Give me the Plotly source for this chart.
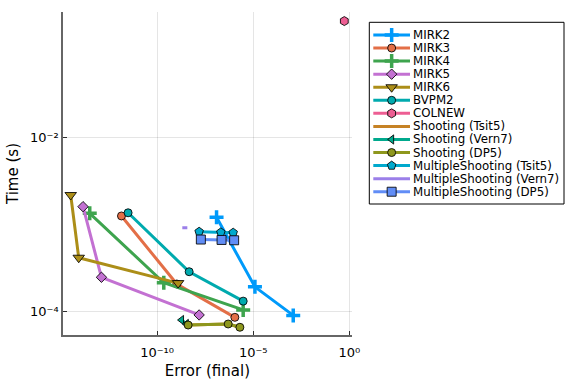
import plotly.graph_objects as go

# ---------------- data ----------------
names = ["MIRK2", "MIRK3", "MIRK4", "MIRK5", "MIRK6", "BVPM2", "COLNEW",
         "Shooting (Tsit5)", "Shooting (Vern7)", "Shooting (DP5)",
         "MultipleShooting (Tsit5)", "MultipleShooting (Vern7)", "MultipleShooting (DP5)"]

mirk2_err = [1.24e-7, 1.23e-5, 1.21e-3]
mirk2_time = [1.205e-3, 1.90e-4, 8.9e-5]
mirk3_err = [1.40e-12, 1.06e-9, 1.11e-6]
mirk3_time = [1.25e-3, 2.05e-4, 8.45e-5]
mirk4_err = [3.13e-14, 2.23e-10, 3.01e-6]
mirk4_time = [1.34e-3, 2.12e-4, 1.03e-4]
mirk5_err = [1.40e-14, 1.27e-13, 1.54e-8]
mirk5_time = [1.60e-3, 2.45e-4, 9.0e-5]
mirk6_err = [3.2e-15, 8.36e-15, 1.24e-9]
mirk6_time = [2.18e-3, 4.12e-4, 2.10e-4]
bvpm2_err = [3.09e-12, 4.65e-9, 3.01e-6]
bvpm2_time = [1.36e-3, 2.84e-4, 1.30e-4]
colnew_err = [0.55]
colnew_time = [0.222]
shoot_tsit5_err = [4.12e-9, 4.99e-7, 2.03e-6]
shoot_tsit5_time = [6.89e-5, 7.08e-5, 6.49e-5]
shoot_vern7_err = [1.87e-9, 3.32e-9]
shoot_vern7_time = [7.87e-5, 7.08e-5]
shoot_dp5_err = [4.12e-9, 4.99e-7, 2.03e-6]
shoot_dp5_time = [6.89e-5, 7.08e-5, 6.49e-5]
ms_tsit5_err = [1.54e-8, 2.08e-7, 9.08e-7]
ms_tsit5_time = [8.22e-4, 8.09e-4, 8.02e-4]
ms_vern7_err = [2.05e-9, 3.74e-9]
ms_vern7_time = [9.14e-4, 9.14e-4]
ms_dp5_err = [1.89e-8, 2.26e-7, 1.02e-6]
ms_dp5_time = [6.68e-4, 6.61e-4, 6.55e-4]

x_tickvals = [1e-10, 1e-5, 1e0]
x_ticktext = ["10⁻¹⁰", "10⁻⁵", "10⁰"]
y_tickvals = [1e-4, 1e-2]
y_ticktext = ["10⁻⁴", "10⁻²"]

# ---------------- styles ----------------
colors = ["#009AFA", "#E36F47", "#3EA44E", "#C371D2", "#AC8E18", "#00AAAE", "#ED5E93",
          "#C68225", "#00A98D", "#8E971D", "#00A9CD", "#9B7FE9", "#618DF6"]
symbols = ["cross-thin", "circle", "cross-thin", "diamond", "triangle-down", "circle", "hexagon",
           None, "triangle-left", "circle", "pentagon", None, "square"]
sizes = [10, 8, 10, 8, 10, 8, 9, None, 8, 8, 9, None, 9]

series_x = [mirk2_err, mirk3_err, mirk4_err, mirk5_err, mirk6_err, bvpm2_err, colnew_err,
            shoot_tsit5_err, shoot_vern7_err, shoot_dp5_err, ms_tsit5_err, ms_vern7_err, ms_dp5_err]
series_y = [mirk2_time, mirk3_time, mirk4_time, mirk5_time, mirk6_time, bvpm2_time, colnew_time,
            shoot_tsit5_time, shoot_vern7_time, shoot_dp5_time, ms_tsit5_time, ms_vern7_time, ms_dp5_time]

FONT = "DejaVu Sans"
fig = go.Figure()


def marker_of(i):
    if symbols[i] is None:
        return None
    if symbols[i] == "cross-thin":
        return dict(symbol="cross-thin", size=sizes[i], color=colors[i],
                    line=dict(width=3.5, color=colors[i]))
    return dict(symbol=symbols[i], size=sizes[i], color=colors[i],
                line=dict(width=1, color="rgba(0,0,0,0.85)"))


for i, nm in enumerate(names):
    mk = marker_of(i)
    fig.add_trace(go.Scatter(
        x=series_x[i], y=series_y[i], name=nm,
        mode="lines+markers" if mk else "lines",
        line=dict(color=colors[i], width=3),
        marker=mk, showlegend=False, xaxis="x", yaxis="y"))

# ---------------- custom legend (own axes, row units) ----------------
for i, nm in enumerate(names):
    mk = marker_of(i)
    fig.add_trace(go.Scatter(
        x=[0.0, 1.0], y=[i, i], mode="lines", line=dict(color=colors[i], width=3),
        showlegend=False, hoverinfo="skip", xaxis="x2", yaxis="y2"))
    if mk:
        fig.add_trace(go.Scatter(
            x=[0.5], y=[i], mode="markers", marker=mk,
            showlegend=False, hoverinfo="skip", xaxis="x2", yaxis="y2"))
    fig.add_annotation(x=1.03, y=i, xref="x2", yref="y2", text=nm, showarrow=False,
                       xanchor="left", yanchor="middle",
                       font=dict(family=FONT, size=11.8, color="black"))

W, H = 576, 384
ml, mr, mt, mb = 63, 8, 12, 49
pw, ph = W - ml - mr, H - mt - mb
px = lambda v: (v - ml) / pw
py = lambda v: 1 - (v - mt) / ph

fig.add_shape(type="rect", xref="paper", yref="paper",
              x0=px(369.3), x1=px(564), y0=py(204), y1=py(22.3),
              line=dict(color="black", width=1), fillcolor="rgba(0,0,0,0)")

# legend axes: row 0 at y=35 px, row step 13.06 px
row0, step = 35.0, 13.06
leg_top_px, leg_bot_px = 22.3, 204.0
y_hi = -(row0 - leg_top_px) / step
y_lo = (leg_bot_px - row0) / step
line_x0, line_x1 = 373.3, 410.0
leg_l, leg_r = 369.3, 564.0
sx = (line_x1 - line_x0)
x_min = (leg_l - line_x0) / sx
x_max = (leg_r - line_x0) / sx

fig.update_layout(
    width=W, height=H,
    margin=dict(l=ml, r=mr, t=mt, b=mb),
    paper_bgcolor="white", plot_bgcolor="white",
    font=dict(family=FONT, color="black"),
    showlegend=False,
    xaxis=dict(
        type="log", domain=[0, px(351.7)], range=[-14.896, 0.125],
        tickvals=x_tickvals, ticktext=x_ticktext,
        ticks="inside", ticklen=4, tickcolor="rgba(0,0,0,0.8)", ticklabelstandoff=5,
        showline=True, linecolor="rgba(0,0,0,0.6)", linewidth=1.5, mirror=False,
        showgrid=True, gridcolor="rgba(0,0,0,0.1)", gridwidth=1, zeroline=False,
        tickfont=dict(family=FONT, size=13, color="black"),
        title=dict(text="Error (final)", font=dict(family=FONT, size=15, color="black"), standoff=6),
        anchor="y", automargin=False),
    yaxis=dict(
        type="log", domain=[0, 1], range=[-4.277, -0.549],
        tickvals=y_tickvals, ticktext=y_ticktext,
        ticks="inside", ticklen=4, tickcolor="rgba(0,0,0,0.8)",
        showline=True, linecolor="rgba(0,0,0,0.6)", linewidth=1.5, mirror=False,
        showgrid=True, gridcolor="rgba(0,0,0,0.1)", gridwidth=1, zeroline=False,
        tickfont=dict(family=FONT, size=13, color="black"),
        title=dict(text="Time (s)", font=dict(family=FONT, size=15, color="black"), standoff=8),
        anchor="x", automargin=False),
    xaxis2=dict(domain=[px(leg_l), px(leg_r)], range=[x_min, x_max], visible=False,
                anchor="y2", fixedrange=True),
    yaxis2=dict(domain=[py(leg_bot_px), py(leg_top_px)], range=[y_lo, y_hi], visible=False,
                anchor="x2", fixedrange=True),
)

fig.write_html("out.html", config={"displayModeBar": False},
               post_script="document.body.style.margin='0';document.body.style.padding='0';")
